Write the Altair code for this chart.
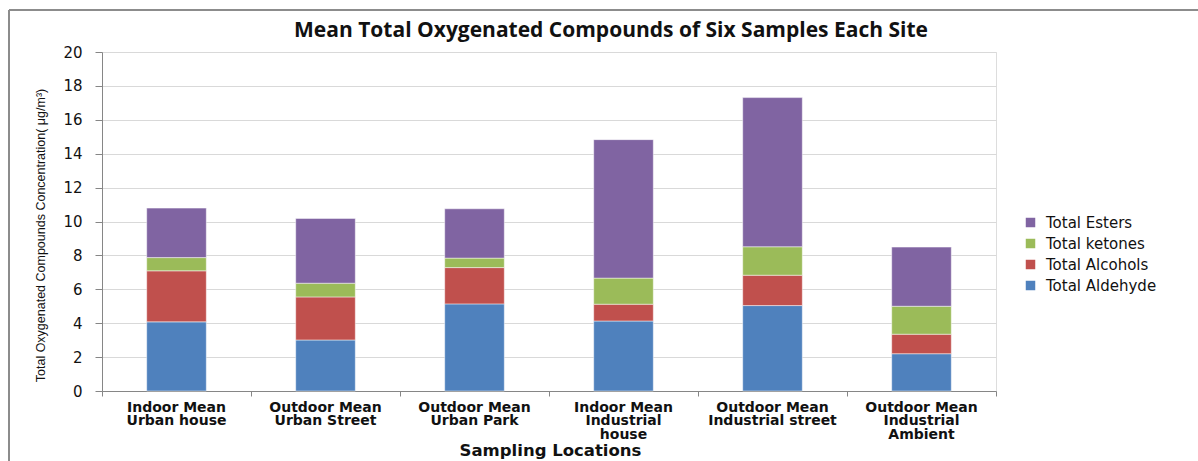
import altair as alt
import pandas as pd

# Sampling sites (line breaks mark how each axis label wraps)
locations = [
    "Indoor Mean\nUrban house",
    "Outdoor Mean\nUrban Street",
    "Outdoor Mean\nUrban Park",
    "Indoor Mean\nIndustrial\nhouse",
    "Outdoor Mean\nIndustrial street",
    "Outdoor Mean\nIndustrial\nAmbient",
]

# Mean concentrations (µg/m³) per compound class
aldehyde = [4.08, 3.01, 5.14, 4.13, 5.04, 2.20]
alcohols = [3.01, 2.54, 2.14, 0.99, 1.79, 1.15]
ketones = [0.78, 0.81, 0.56, 1.54, 1.68, 1.65]
esters = [2.92, 3.82, 2.91, 8.17, 8.80, 3.49]

series = ["Total Aldehyde", "Total Alcohols", "Total ketones", "Total Esters"]
colors = ["#4F81BD", "#C0504D", "#9BBB59", "#8064A2"]
values = [aldehyde, alcohols, ketones, esters]

rows = []
for s_idx, (name, vals) in enumerate(zip(series, values)):
    for loc, v in zip(locations, vals):
        rows.append({"Location": loc, "Compound": name, "Value": v, "StackOrder": s_idx})
df = pd.DataFrame(rows)

legend_order = ["Total Esters", "Total ketones", "Total Alcohols", "Total Aldehyde"]

bars = alt.Chart(df).mark_bar(
    width=alt.RelativeBandSize(0.4), stroke="#ffffff", strokeWidth=0.8, strokeOpacity=0.6
).encode(
    x=alt.X(
        "Location:N",
        sort=locations,
        scale=alt.Scale(paddingInner=0, paddingOuter=0),
        axis=alt.Axis(
            title="Sampling Locations",
            labelExpr="split(datum.label, '\\n')",
            labelAngle=0,
            labelFont="DejaVu Sans",
            labelFontWeight="bold",
            labelFontSize=14,
            labelLineHeight=13.8,
            labelColor="#111111",
            labelPadding=4,
            labelBaseline="top",
            bandPosition=1,
            tickExtra=True,
            tickSize=5,
            tickColor="#868686",
            domainColor="#868686",
            titleFont="DejaVu Sans",
            titleFontWeight="bold",
            titleFontSize=16.5,
            titleColor="#111111",
            titleX=448,
            titleY=59,
            titleBaseline="middle",
        ),
    ),
    y=alt.Y(
        "Value:Q",
        stack="zero",
        scale=alt.Scale(domain=[0, 20], nice=False),
        axis=alt.Axis(
            title="Total Oxygenated Compounds Concentration( μg/m³)",
            values=list(range(0, 21, 2)),
            labelFont="DejaVu Sans",
            labelFontSize=15,
            labelColor="#111111",
            labelPadding=13,
            tickSize=7,
            tickColor="#868686",
            domainColor="#868686",
            gridColor="#d9d9d9",
            gridWidth=1.2,
            titleFont="Liberation Sans",
            titleFontWeight="normal",
            titleFontSize=12.5,
            titleColor="#111111",
            titleAngle=-90,
            titleX=-62,
            titleY=183,
            titleAlign="center",
            titleBaseline="middle",
        ),
    ),
    color=alt.Color(
        "Compound:N",
        scale=alt.Scale(domain=series, range=colors),
        sort=legend_order,
        legend=alt.Legend(
            title=None,
            orient="none",
            legendX=921,
            legendY=163,
            symbolType="square",
            symbolSize=90,
            symbolStrokeWidth=0,
            labelFont="DejaVu Sans",
            labelFontSize=15,
            labelColor="#111111",
            labelOffset=8,
            rowPadding=5,
            values=legend_order,
        ),
    ),
    order=alt.Order("StackOrder:Q", sort="ascending"),
)

# Outer frame lines (top and left edges of the figure box)
frame_df = pd.DataFrame({"k": [0]})
frame_top = alt.Chart(frame_df).mark_rule(color="#8c8c8c", strokeWidth=2).encode(
    x=alt.value(-93), x2=alt.value(1096), y=alt.value(-42)
)
frame_left = alt.Chart(frame_df).mark_rule(color="#8c8c8c", strokeWidth=2).encode(
    x=alt.value(-93), y=alt.value(-42), y2=alt.value(420)
)

chart = alt.layer(bars, frame_top, frame_left).properties(
    width=894,
    height=339,
    autosize=alt.AutoSizeParams(type="none"),
    padding={"left": 102, "top": 52, "right": 202, "bottom": 70},
    title=alt.TitleParams(
        "Mean Total Oxygenated Compounds of Six Samples Each Site",
        font="Open Sans",
        fontWeight="bold",
        fontSize=21,
        color="#111111",
        anchor="middle",
        dx=62,
        dy=42,
        offset=10,
    ),
).configure_view(stroke=None).configure(background="white")

chart.save("out.html", embed_options={"renderer": "svg", "actions": False})
